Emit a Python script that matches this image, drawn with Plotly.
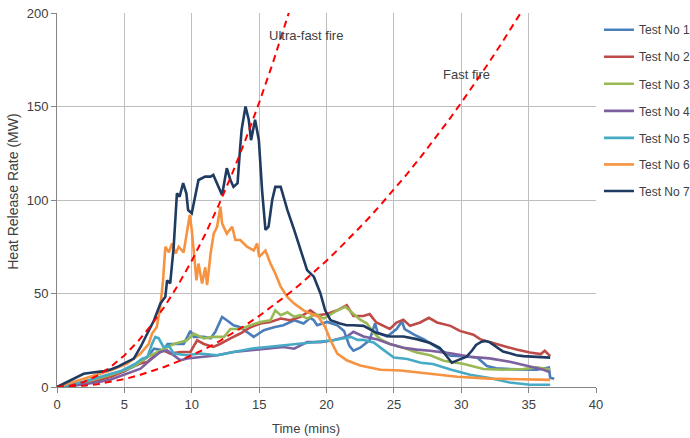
import plotly.graph_objects as go

# ---------------- data ----------------
names = ["Test No 1", "Test No 2", "Test No 3", "Test No 4", "Test No 5", "Test No 6", "Test No 7"]
colors = ["#4A7EBB", "#BE4B48", "#98B954", "#7D60A0", "#46AAC5", "#F69240", "#1F3B62"]

t1 = [0, 1, 2, 3, 4, 5, 6, 6.7, 7.2, 7.9, 8.2, 8.66, 9.4, 9.9, 10.15, 10.9, 11.4, 11.75, 12.25, 12.6, 13.1,
      13.6, 14.2, 14.6, 15.35, 16.1, 16.8, 17.6, 18.3, 18.8, 19.06, 19.3, 20.05, 20.8, 21.3, 21.7, 22.0, 22.5,
      23.2, 23.6, 23.8, 24.5, 25.2, 25.6, 25.8, 26.5, 27.2, 28.2, 29.2, 30.2, 31.2, 31.9, 32.6, 34.1, 35.6,
      36.5, 36.6, 36.9]
q1 = [0, 1, 2.5, 4, 6, 8.5, 12, 16, 20.5, 19.6, 23, 23, 23, 30, 26.8, 26.8, 26, 29.5, 37.5, 35.7, 33,
      32, 28.6, 26.8, 30.4, 32, 33, 35.7, 34, 37, 35.7, 33, 34.8, 33, 30, 22, 19.4, 21,
      25, 34, 29, 27, 31, 35, 31, 28, 25.6, 21, 16.7, 16.5, 15.6, 11.2, 10, 9.4, 9.2,
      10.4, 5, 4.4]

t2 = [0, 1, 2, 3, 4, 5, 5.7, 6.7, 7.4, 7.9, 8.4, 9.16, 9.9, 10.4, 10.9, 11.6, 12.1, 12.87, 13.6, 14.36, 15.1,
      15.84, 16.6, 17.3, 18.07, 18.8, 19.3, 20.05, 20.8, 21.5, 22.0, 22.75, 23.2, 23.7, 24.2, 24.7, 25.2,
      25.7, 26.2, 26.95, 27.6, 28.2, 29.2, 29.9, 30.9, 31.4, 32.1, 33.1, 34.1, 35.1, 35.9, 36.2, 36.6]
q2 = [0, 0.8, 2, 3.5, 5.5, 8.5, 11.6, 13.4, 17.9, 19.6, 17.9, 18.75, 18.75, 25, 23, 21.4, 23, 26, 28.6, 32, 34,
      34.8, 36.6, 35.7, 37.5, 41, 38.4, 39, 41, 43.75, 38, 38, 39, 34.5, 32.7, 31, 34.5,
      36, 32.7, 34.5, 37, 34.5, 32.7, 30, 28, 25.6, 24, 22, 20, 18.5, 17.6, 19.4, 16.5]

t3 = [0, 1, 2, 3, 4, 5, 5.8, 6.7, 7.67, 8.66, 9.65, 10.15, 10.9, 11.6, 12.4, 12.87, 13.6, 14.36, 15.1, 15.84,
      16.2, 16.6, 17.1, 17.6, 18.07, 18.56, 19.2, 19.8, 20.3, 20.8, 21.4, 22.0, 22.5, 23.0, 23.5, 24.0,
      24.7, 25.7, 26.7, 27.7, 28.7, 30.2, 31.65, 33.1, 34.6, 35.6, 36.6]
q3 = [0, 1, 2.5, 4.5, 6.5, 9, 11.4, 16, 19.6, 23, 25, 28.6, 26, 26.8, 26.8, 31, 31, 33, 34.8, 35.7,
      41, 38.4, 40, 37.5, 38.4, 36.6, 39, 36.6, 39, 41, 42.9, 39, 36, 34, 29, 25.6,
      23, 21, 18.5, 17, 14, 12.3, 9.6, 9.2, 9.6, 10.5, 9.4]

t4 = [0, 1, 2, 3, 4, 5.2, 6.2, 6.9, 7.67, 8.17, 8.66, 9.16, 9.65, 10.6, 11.9, 13.1, 14.36, 15.6, 16.8, 17.6,
      18.56, 19.55, 20.5, 21.5, 22.0, 22.75, 23.7, 24.7, 25.7, 26.7, 27.7, 29.2, 30.65, 32.1, 33.6, 35.1,
      36.1, 36.6]
q4 = [0, 0.5, 1.5, 2.5, 4, 7, 9.8, 14.3, 18.75, 19.6, 17, 14.3, 15.2, 16, 17, 18.75, 19.6, 20.5, 21.4, 20.5,
      24, 24, 25, 26.8, 29.5, 27, 25.6, 23, 21, 20, 19.4, 18, 16.2, 15.3, 13.5, 11, 9.2, 7.8]

t5 = [0, 1, 2, 3, 4, 4.8, 5.8, 6.3, 6.7, 7.05, 7.3, 7.55, 7.9, 8.3, 8.66, 9.65, 10.6, 11.9, 13.1, 14.4, 15.6,
      16.8, 18.1, 19.3, 20.5, 21.8, 22.3, 22.75, 23.5, 24.2, 25.0, 26.0, 27.0, 27.9, 29.2, 30.65, 32.1,
      33.6, 35.1, 36.6]
q5 = [0, 1.2, 3, 5, 7, 8.7, 12.3, 15, 16, 23, 26.8, 26, 21.4, 22, 17.9, 17, 17.9, 17, 18.75, 20.5, 21.4,
      22.3, 23.2, 24, 25, 26.8, 25.2, 25.2, 23.8, 20, 15.8, 15, 13, 12.3, 9.3, 6.6, 4.8,
      2.4, 1.2, 1.2]

t6 = [0, 1, 2, 3, 4, 5.2, 6.2, 6.8, 7.05, 7.4, 7.67, 7.87, 8.04, 8.3, 8.54, 8.8, 9.03, 9.4, 9.65, 9.85, 10.0,
      10.15, 10.35, 10.5, 10.77, 11.0, 11.14, 11.4, 11.63, 11.88, 12.13, 12.25, 12.6, 13.0, 13.24, 13.6,
      14.1, 14.6, 14.85, 15.0, 15.47, 15.84, 16.2, 16.6, 17.1, 17.6, 18.3, 18.9, 19.4, 19.9, 20.3, 20.8,
      21.5, 22.5, 24.0, 25.5, 27.2, 29.7, 32.1, 34.6, 36.6]
q6 = [0, 2.2, 4.5, 6.5, 9, 12.5, 17.9, 23, 28.6, 32, 42.9, 57, 75, 72, 76.8, 71.4, 75, 72, 82, 92, 84,
      71, 57, 66, 55.4, 64, 54.5, 71.4, 82, 85.7, 96.4, 87.5, 82, 85.7, 78.6, 78.6,
      75, 73, 76.8, 69.6, 73, 66, 60.7, 53.6, 48, 44.6, 41, 39, 37.5, 32, 25, 17.9,
      14.3, 11.5, 9.2, 8.8, 7.4, 5.5, 4.5, 4.0, 3.8]

t7 = [0, 0.5, 1.0, 1.5, 1.98, 2.5, 2.97, 3.5, 3.96, 4.5, 4.95, 5.7, 6.2, 6.7, 7.2, 7.67, 8.04, 8.17, 8.4, 8.66,
      8.9, 9.1, 9.36, 9.6, 9.73, 10.0, 10.27, 10.5, 11.0, 11.4, 11.6, 12.0, 12.25, 12.6, 12.87, 13.1, 13.4,
      13.56, 13.7, 13.99, 14.23, 14.4, 14.7, 14.98, 15.22, 15.47, 15.7, 15.97, 16.2, 16.6, 17.1, 17.6,
      18.07, 18.56, 19.06, 19.55, 19.9, 20.3, 21.0, 21.5, 22.0, 22.75, 23.7, 24.7, 25.7, 26.7, 27.7,
      28.4, 28.8, 29.3, 29.8, 30.4, 30.8, 31.1, 31.5, 31.8, 32.1, 32.4, 32.8, 33.1, 33.6, 34.1, 34.6,
      35.1, 35.6, 36.1, 36.6]
q7 = [0, 1.8, 3.4, 5, 7.1, 7.6, 8, 8.5, 9.3, 10.8, 12.5, 15.2, 21.4, 28.6, 35.7, 44.6, 48.2, 57, 55.4, 75,
      103.6, 101.8, 109, 103.6, 94.6, 92.9, 101.8, 110.7, 112.5, 112.5, 113.4, 107, 102.7, 117, 110.7, 107, 109,
      125, 137.5, 150, 142.9, 132, 142.9, 132, 105, 84, 85.7, 100, 107, 107, 94.6, 84,
      73, 62.5, 59, 50, 41, 35.7, 34, 33, 33, 32.7, 29, 27, 27, 25.6, 23.5,
      21, 17.5, 13, 14.5, 16.2, 19.5, 22.5, 24.2, 24.6, 24, 22.5, 20.5, 19, 18, 17, 16.5,
      16.2, 16, 15.6, 15.7]

test_t = [t1, t2, t3, t4, t5, t6, t7]
test_q = [q1, q2, q3, q4, q5, q6, q7]

# t-squared design fire curves
ultra_t = [0, 1, 2, 3, 4, 5, 6, 7, 8, 9, 10, 11, 12, 13, 14, 15, 16, 17, 17.5]
ultra_q = [0, 0.7, 2.7, 6.1, 10.8, 16.9, 24.3, 33.1, 43.2, 54.7, 67.5, 81.7, 97.3, 114.1, 132.4, 152.0,
           172.9, 195.2, 206.8]
fast_t = list(range(0, 36))
fast_q = [0, 0.2, 0.7, 1.5, 2.7, 4.2, 6.1, 8.3, 10.8, 13.7, 16.9, 20.4, 24.3, 28.5, 33.1, 38.0, 43.2, 48.8,
          54.7, 61.0, 67.5, 74.5, 81.7, 89.3, 97.3, 105.5, 114.1, 123.1, 132.4, 142.0, 152.0, 162.3, 172.9,
          183.9, 195.2, 206.8]

x_ticks = [0, 5, 10, 15, 20, 25, 30, 35, 40]
y_ticks = [0, 50, 100, 150, 200]

# ---------------- figure ----------------
FONT = "Liberation Sans, Arial, sans-serif"
TXT = "#404040"

fig = go.Figure()

legend_py = [30, 57, 84, 111, 138, 164.5, 191]  # pixel rows of legend entries
plot_top, plot_bot = 13.3, 386.7

for i in range(7):
    lg = "legend" if i == 0 else f"legend{i + 1}"
    fig.add_trace(go.Scatter(
        x=test_t[i], y=test_q[i], mode="lines", name=names[i],
        line=dict(color=colors[i], width=2.6), legend=lg,
    ))

fig.add_trace(go.Scatter(x=ultra_t, y=ultra_q, mode="lines", showlegend=False,
                         line=dict(color="#FF0000", width=2, dash="7px,5px")))
fig.add_trace(go.Scatter(x=fast_t, y=fast_q, mode="lines", showlegend=False,
                         line=dict(color="#FF0000", width=2, dash="7px,5px")))

legend_layouts = {}
for i in range(7):
    key = "legend" if i == 0 else f"legend{i + 1}"
    legend_layouts[key] = dict(
        x=1.0055, xanchor="left",
        y=(plot_bot - legend_py[i]) / (plot_bot - plot_top), yanchor="middle",
        font=dict(family=FONT, size=12, color=TXT),
        itemwidth=30, bgcolor="rgba(0,0,0,0)", borderwidth=0,
        tracegroupgap=0,
    )

fig.update_layout(
    width=690, height=438,
    margin=dict(l=57, r=94, t=13, b=51, autoexpand=False),
    paper_bgcolor="white", plot_bgcolor="white",
    font=dict(family=FONT, size=13, color=TXT),
    showlegend=True,
    **legend_layouts,
    xaxis=dict(
        range=[0, 40], tickvals=x_ticks, showgrid=True, gridcolor="#BEBEBE", gridwidth=1,
        showline=True, linecolor="#868686", linewidth=1, zeroline=False,
        ticks="outside", ticklen=5, tickcolor="#868686", automargin=False,
        tickfont=dict(family=FONT, size=13, color=TXT),
    ),
    yaxis=dict(
        range=[0, 200], tickvals=y_ticks, showgrid=True, gridcolor="#BEBEBE", gridwidth=1,
        showline=True, linecolor="#868686", linewidth=1, zeroline=False,
        ticks="outside", ticklen=5, tickcolor="#868686", automargin=False,
        tickfont=dict(family=FONT, size=13, color=TXT),
    ),
    annotations=[
        dict(text="Time (mins)", xref="paper", yref="paper", x=0.462, y=-0.11,
             xanchor="center", yanchor="middle", showarrow=False,
             font=dict(family=FONT, size=13, color=TXT)),
        dict(text="Heat Release Rate (MW)", xref="paper", yref="paper", x=-0.081, y=0.523,
             xanchor="center", yanchor="middle", textangle=-90, showarrow=False,
             font=dict(family=FONT, size=14, color=TXT)),
        dict(text="Ultra-fast fire", xref="x", yref="y", x=15.55, y=188,
             xanchor="left", yanchor="middle", showarrow=False,
             font=dict(family=FONT, size=13, color=TXT)),
        dict(text="Fast fire", xref="x", yref="y", x=28.5, y=167,
             xanchor="left", yanchor="middle", showarrow=False,
             font=dict(family=FONT, size=13, color=TXT)),
    ],
)

fig.write_html(
    "out.html",
    config={"displayModeBar": False},
    post_script="document.body.style.margin='0';document.body.style.padding='0';",
)
